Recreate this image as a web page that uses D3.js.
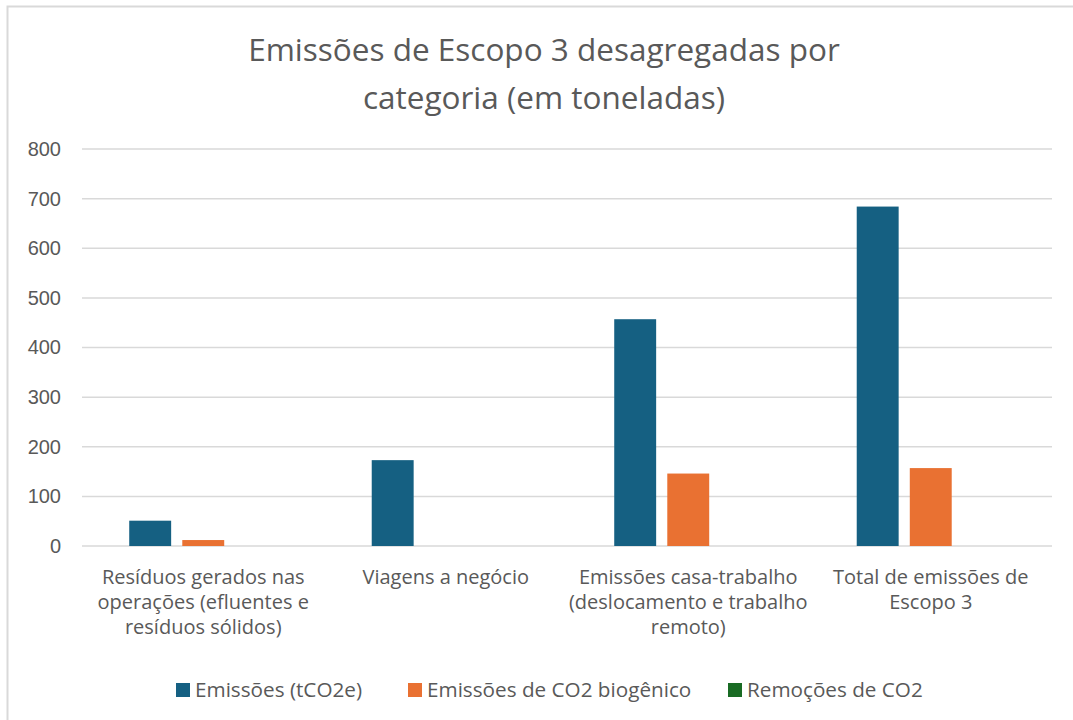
<!DOCTYPE html>
<html>
<head>
<meta charset="utf-8">
<script src="https://cdn.jsdelivr.net/npm/d3@7"></script>
<style>
  body { margin: 0; background: #fff; }
  text { fill: #595959; }
</style>
</head>
<body>
<svg id="chart" width="1073" height="720"></svg>
<script>
const categories = [
  ["Resíduos gerados nas", "operações (efluentes e", "resíduos sólidos)"],
  ["Viagens a negócio"],
  ["Emissões casa-trabalho", "(deslocamento e trabalho", "remoto)"],
  ["Total de emissões de", "Escopo 3"]
];
const seriesNames = ["Emissões (tCO2e)", "Emissões de CO2 biogênico", "Remoções de CO2"];
const emissoes = [51, 173, 457, 684];
const biogenico = [12, 0, 146, 157];
const remocoes = [0, 0, 0, 0];
const yTicks = [0, 100, 200, 300, 400, 500, 600, 700, 800];
const colors = ["#156082", "#E97132", "#196B24"];

const seriesValues = [emissoes, biogenico, remocoes];

let svg = d3.select("#chart"),
  margin = {top: 149, right: 21, bottom: 174, left: 82},
  width = svg.attr("width") - margin.left - margin.right,
  height = svg.attr("height") - margin.top - margin.bottom;

// chart frame (only left/top edges visible in the crop)
svg.append("path")
   .attr("d", "M7.5,720V6.5H1073")
   .attr("fill", "none")
   .attr("stroke", "#d9d9d9")
   .attr("stroke-width", 2);

// title
let title = svg.append("text")
   .attr("text-anchor", "middle")
   .style("font-family", "'Open Sans', sans-serif")
   .style("font-size", "31.5px");
title.append("tspan").attr("x", 544).attr("y", 61).text("Emissões de Escopo 3 desagregadas por");
title.append("tspan").attr("x", 544).attr("y", 109).text("categoria (em toneladas)");

let g = svg.append("g")
   .attr("transform", "translate(" + margin.left + "," + margin.top + ")");

let x0 = d3.scaleBand()
   .domain(d3.range(categories.length))
   .range([0, width])
   .padding(0);
let x1 = d3.scaleBand()
   .domain(d3.range(seriesNames.length))
   .range([0, x0.bandwidth()])
   .paddingInner(0.21)
   .paddingOuter(0.89);
let y = d3.scaleLinear().domain([0, 800]).range([height, 0]);

// gridlines
g.append("g")
 .selectAll("line")
 .data(yTicks)
 .enter().append("line")
 .attr("x1", 0).attr("x2", width)
 .attr("y1", d => y(d)).attr("y2", d => y(d))
 .attr("stroke", "#d9d9d9")
 .attr("stroke-width", 1.5);

// y axis labels
let yAxis = g.append("g")
 .call(d3.axisLeft(y).tickValues(yTicks).tickSize(0).tickPadding(21));
yAxis.select(".domain").remove();
yAxis.selectAll("text")
 .style("font-family", "'Liberation Sans', Arial, sans-serif")
 .style("font-size", "20px")
 .attr("fill", "#595959");

// bars
let cat = g.selectAll(".cat")
 .data(categories)
 .enter().append("g")
 .attr("class", "cat")
 .attr("transform", (d, i) => "translate(" + x0(i) + ",0)");

cat.selectAll("rect")
 .data((d, i) => seriesValues.map((s, k) => ({k: k, v: s[i]})))
 .enter().append("rect")
 .attr("x", d => x1(d.k))
 .attr("width", x1.bandwidth())
 .attr("y", d => y(d.v))
 .attr("height", d => y(0) - y(d.v))
 .attr("fill", d => colors[d.k]);

// category labels
let xLab = g.append("g")
 .attr("transform", "translate(0," + height + ")")
 .selectAll("text")
 .data(categories)
 .enter().append("text")
 .attr("text-anchor", "middle")
 .style("font-family", "'Open Sans', sans-serif")
 .style("font-size", "20px");
xLab.each(function(lines, i) {
  let t = d3.select(this);
  lines.forEach((l, j) => {
    t.append("tspan")
     .attr("x", x0(i) + x0.bandwidth() / 2)
     .attr("y", 38 + j * 25)
     .text(l);
  });
});

// legend
const legendX = [176, 408, 728];
let legend = svg.append("g")
 .selectAll("g")
 .data(seriesNames)
 .enter().append("g")
 .attr("transform", (d, i) => "translate(" + legendX[i] + ",683)");
legend.append("rect")
 .attr("width", 14).attr("height", 14)
 .attr("fill", (d, i) => colors[i]);
legend.append("text")
 .attr("x", 19).attr("y", 14)
 .style("font-family", "'Open Sans', sans-serif")
 .style("font-size", "20.7px")
 .text(d => d);
</script>
</body>
</html>
